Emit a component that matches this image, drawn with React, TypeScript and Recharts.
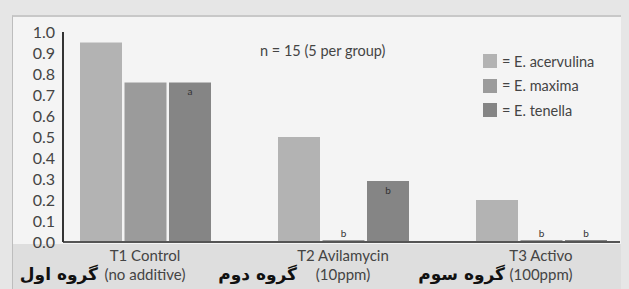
import React from 'react';
import { BarChart, Bar, XAxis, YAxis, LabelList } from 'recharts';

const categories = ['T1 Control', 'T2 Avilamycin', 'T3 Activo'];
const categorySubLabels = ['(no additive)', '(10ppm)', '(100ppm)'];
const groupLabels = ['گروه اول', 'گروه دوم', 'گروه سوم'];
const seriesNames = ['E. acervulina', 'E. maxima', 'E. tenella'];
const acervulina = [0.95, 0.5, 0.2];
const maxima = [0.76, 0.01, 0.01];
const tenella = [0.76, 0.29, 0.01];
const acervulinaLetters = ['', '', ''];
const maximaLetters = ['', 'b', 'b'];
const tenellaLetters = ['a', 'b', 'b'];
const yTicks = [0, 0.1, 0.2, 0.3, 0.4, 0.5, 0.6, 0.7, 0.8, 0.9, 1.0];
const annotation = 'n = 15 (5 per group)';

const seriesKeys = ['acervulina', 'maxima', 'tenella'];
const seriesColors = ['#b3b3b3', '#9b9b9b', '#858585'];
const persianGap = [47, 46, 36];
const FONT = 'Lato, "Open Sans", sans-serif';
const TEXT = '#444';

const data = categories.map((name, i) => ({
  name,
  acervulina: acervulina[i],
  maxima: maxima[i],
  tenella: tenella[i],
  acervulinaLetter: acervulinaLetters[i],
  maximaLetter: maximaLetters[i],
  tenellaLetter: tenellaLetters[i],
}));

const XTick = (props: any) => {
  const { x, y, payload } = props;
  const i = payload.index;
  return (
    <g>
      <text x={x} y={y + 11} textAnchor="middle" fontFamily={FONT} fontSize={15} fill={TEXT}>
        {categories[i]}
      </text>
      <text x={x} y={y + 30} textAnchor="middle" fontFamily={FONT} fontSize={15} fill={TEXT}>
        {categorySubLabels[i]}
      </text>
      <text
        x={x - persianGap[i]}
        y={y + 30}
        textAnchor="end"
        fontFamily='"DejaVu Sans", sans-serif'
        fontWeight="bold"
        fontSize={17}
        fill="#111"
      >
        {groupLabels[i]}
      </text>
    </g>
  );
};

const LetterLabel = (props: any) => {
  const { x, y, width, height, value } = props;
  if (!value) return null;
  const inside = height > 15;
  return (
    <text
      x={x + width / 2}
      y={inside ? y + 13 : y - 3}
      textAnchor="middle"
      fontFamily={FONT}
      fontSize={10}
      fill="#333"
    >
      {value}
    </text>
  );
};

export default function App() {
  return (
    <div style={{ position: 'absolute', left: 0, top: 0, width: 629, height: 289, background: '#e6e6e6', overflow: 'hidden' }}>
      <div style={{ position: 'absolute', left: 12, top: 15, width: 608, height: 228, background: '#f4f4f4', borderTop: '2px solid #c8c8c8', borderLeft: '1px solid #bdbdbd' }} />
      <div style={{ position: 'absolute', left: 12, top: 244, width: 608, height: 45, background: '#dedede', borderLeft: '1px solid #bdbdbd' }} />
      <div style={{ position: 'absolute', left: 260, top: 42, fontFamily: FONT, fontSize: 14.5, color: TEXT, whiteSpace: 'nowrap' }}>
        {annotation}
      </div>
      <div style={{ position: 'absolute', left: 483, top: 49 }}>
        {seriesNames.map((n, i) => (
          <div key={n} style={{ display: 'flex', alignItems: 'center', height: 24.5, fontFamily: FONT, fontSize: 14.5, color: TEXT, whiteSpace: 'nowrap' }}>
            <span style={{ display: 'inline-block', width: 14, height: 14, background: seriesColors[i], marginRight: 5 }} />
            {'= ' + n}
          </div>
        ))}
      </div>
      <div style={{ position: 'absolute', left: 0, top: 0 }}>
        <BarChart
          width={629}
          height={289}
          data={data}
          margin={{ top: 32, right: 9, left: 3, bottom: 2 }}
          barSize={42}
          barGap={2.5}
        >
          <XAxis
            dataKey="name"
            height={45}
            padding={{ left: -17, right: -20 }}
            axisLine={{ stroke: '#555', strokeWidth: 2 }}
            tickLine={false}
            tick={<XTick />}
            interval={0}
          />
          <YAxis
            width={60}
            domain={[0, 1]}
            ticks={yTicks}
            interval={0}
            tickFormatter={(v: number) => v.toFixed(1)}
            axisLine={{ stroke: '#333', strokeWidth: 2 }}
            tickLine={false}
            tick={{ fontFamily: FONT, fontSize: 16, fill: TEXT }}
          />
          {seriesKeys.map((k, i) => (
            <Bar key={k} dataKey={k} name={seriesNames[i]} fill={seriesColors[i]} isAnimationActive={false}>
              <LabelList dataKey={k + 'Letter'} content={<LetterLabel />} />
            </Bar>
          ))}
        </BarChart>
      </div>
    </div>
  );
}
